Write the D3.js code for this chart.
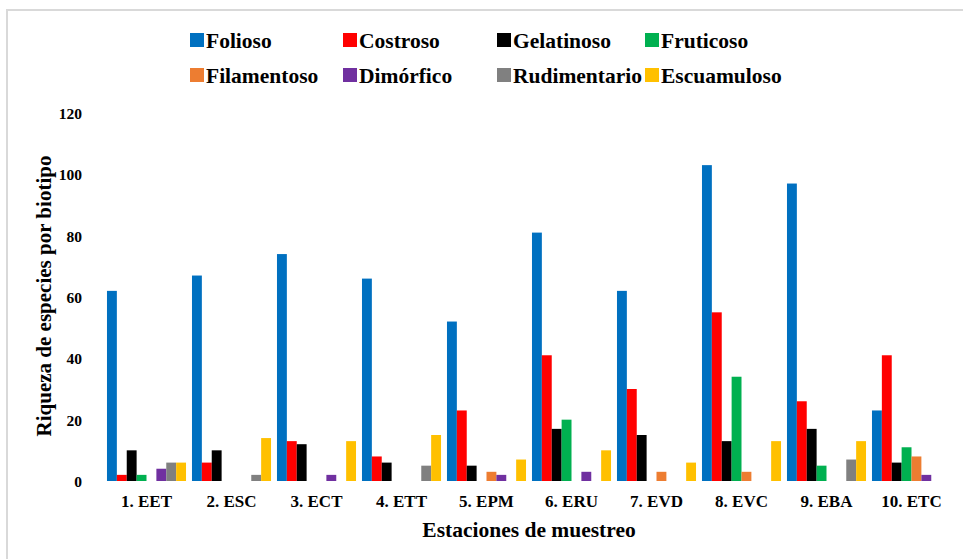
<!DOCTYPE html>
<html lang="es">
<head>
  <meta charset="UTF-8">
  <title>Riqueza de especies por biotipo</title>
  <script src="https://d3js.org/d3.v7.min.js"></script>
  <style>
    body { margin: 0; background: white; }
    svg { display: block; }
    svg text { font-family: "Times New Roman", "Liberation Serif", "DejaVu Serif", serif; font-weight: bold; fill: #000; }
  </style>
</head>
<body>
  <div id="chart"></div>
  <script>
    // Data
    const stations = ["1. EET", "2. ESC", "3. ECT", "4. ETT", "5. EPM", "6. ERU", "7. EVD", "8. EVC", "9. EBA", "10. ETC"];
    const biotypes = ["Folioso", "Costroso", "Gelatinoso", "Fruticoso", "Filamentoso", "Dimórfico", "Rudimentario", "Escuamuloso"];
    const colors = ["#0070C0", "#FF0000", "#000000", "#00B050", "#ED7D31", "#7030A0", "#808080", "#FFC000"];

    const folioso      = [62, 67, 74, 66, 52, 81, 62, 103, 97, 23];
    const costroso     = [2, 6, 13, 8, 23, 41, 30, 55, 26, 41];
    const gelatinoso   = [10, 10, 12, 6, 5, 17, 15, 13, 17, 6];
    const fruticoso    = [2, 0, 0, 0, 0, 20, 0, 34, 5, 11];
    const filamentoso  = [0, 0, 0, 0, 3, 0, 3, 3, 0, 8];
    const dimorfico    = [4, 0, 2, 0, 2, 3, 0, 0, 0, 2];
    const rudimentario = [6, 2, 0, 5, 0, 0, 0, 0, 7, 0];
    const escuamuloso  = [6, 14, 13, 15, 7, 10, 6, 13, 13, 0];

    const yTicks = [0, 20, 40, 60, 80, 100, 120];

    const series = [folioso, costroso, gelatinoso, fruticoso, filamentoso, dimorfico, rudimentario, escuamuloso];

    const width = 963, height = 559;
    const serif = "'Times New Roman', 'Liberation Serif', 'DejaVu Serif', serif";

    const svg = d3.select("#chart").append("svg")
      .attr("width", width)
      .attr("height", height);

    // chart frame (only top/left edges visible in the picture)
    svg.append("rect")
      .attr("x", 7).attr("y", 10)
      .attr("width", width + 20).attr("height", height + 20)
      .attr("fill", "none")
      .attr("stroke", "#d9d9d9")
      .attr("stroke-width", 2);

    const x0 = d3.scaleBand()
      .domain(stations)
      .range([104, 954])
      .paddingInner(0.07)
      .paddingOuter(0.035);

    const x1 = d3.scaleBand()
      .domain(biotypes)
      .range([0, x0.bandwidth()]);

    const y = d3.scaleLinear()
      .domain([0, 120])
      .range([481, 113]);

    const color = d3.scaleOrdinal().domain(biotypes).range(colors);

    // bars
    const groups = svg.append("g").selectAll("g")
      .data(stations)
      .join("g")
      .attr("transform", d => `translate(${x0(d)},0)`);

    groups.selectAll("rect")
      .data((d, i) => biotypes.map((b, j) => ({ key: b, value: series[j][i] })))
      .join("rect")
      .attr("x", d => x1(d.key))
      .attr("y", d => y(d.value))
      .attr("width", x1.bandwidth())
      .attr("height", d => y(0) - y(d.value))
      .attr("fill", d => color(d.key));

    // y axis (labels only)
    const yAxis = svg.append("g")
      .attr("transform", "translate(82,0)")
      .call(d3.axisLeft(y).tickValues(yTicks).tickSize(0).tickPadding(0));
    yAxis.attr("font-family", serif).attr("font-size", 15.5);
    yAxis.select(".domain").remove();
    yAxis.selectAll("text").attr("dy", "0.35em");

    // x axis (labels only)
    const xAxis = svg.append("g")
      .attr("transform", "translate(0,481)")
      .call(d3.axisBottom(x0).tickSize(0).tickPadding(14));
    xAxis.attr("font-family", serif).attr("font-size", 17);
    xAxis.select(".domain").remove();

    // axis titles
    svg.append("text")
      .attr("transform", "translate(51,296) rotate(-90)")
      .attr("text-anchor", "middle")
      .attr("font-size", 21)
      .text("Riqueza de especies por biotipo");

    svg.append("text")
      .attr("x", 529)
      .attr("y", 537)
      .attr("text-anchor", "middle")
      .attr("font-size", 21.5)
      .text("Estaciones de muestreo");

    // legend
    const legendX = [190, 343, 497, 645];
    const legendY = [33, 68];
    const legend = svg.append("g").selectAll("g")
      .data(biotypes)
      .join("g")
      .attr("transform", (d, i) => `translate(${legendX[i % 4]},${legendY[Math.floor(i / 4)]})`);

    legend.append("rect")
      .attr("width", 14)
      .attr("height", 14)
      .attr("fill", d => color(d));

    legend.append("text")
      .attr("x", 16)
      .attr("y", 14.5)
      .attr("font-size", 21.5)
      .text(d => d);
  </script>
</body>
</html>
